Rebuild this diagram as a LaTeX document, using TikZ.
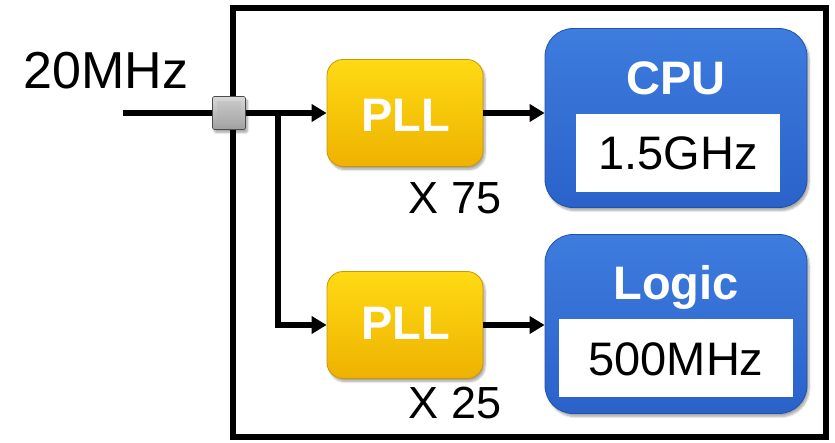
\documentclass[tikz,border=0pt]{standalone}
\usepackage{fontspec}
\setmainfont{Liberation Sans}
\usetikzlibrary{arrows.meta,shadows.blur,calc}
\definecolor{pllTop}{RGB}{255,218,20}
\definecolor{pllBot}{RGB}{238,178,0}
\definecolor{pllEdge}{RGB}{205,150,0}
\definecolor{blkTop}{RGB}{62,124,222}
\definecolor{blkBot}{RGB}{42,98,202}
\definecolor{blkEdge}{RGB}{32,82,170}
\tikzset{
  wire/.style={line width=5.5pt},
  arr/.style={wire,-{Triangle[length=15pt,width=17pt]}},
  softshadow/.style={blur shadow={shadow xshift=2pt,shadow yshift=-3pt,shadow blur steps=6,shadow opacity=35}},
  pllbox/.style={softshadow,rounded corners=16pt,minimum width=156pt,minimum height=107pt,
    top color=pllTop,bottom color=pllBot,draw=pllEdge,line width=0.8pt},
  unitbox/.style={softshadow,rounded corners=28pt,minimum width=262pt,minimum height=179pt,
    top color=blkTop,bottom color=blkBot,draw=blkEdge,line width=0.8pt},
  freqbox/.style={fill=white,inner sep=0pt,text height=34pt,text depth=0pt,
    minimum height=78pt,font=\fontsize{47}{56}\selectfont},
  whitelbl/.style={text=white,font=\bfseries\fontsize{47}{56}\selectfont,anchor=base,inner sep=0pt},
  blacklbl/.style={text=black,font=\fontsize{45}{54}\selectfont,anchor=base,inner sep=0pt},
  junction/.style={softshadow,minimum size=33pt,inner sep=0pt,rounded corners=1.5pt,
    top color=gray!30,bottom color=gray!75,draw=gray!60!black,line width=0.6pt}
}
\begin{document}
\begin{tikzpicture}[x=1pt,y=-1pt]
  \useasboundingbox (0,0) rectangle (835,443);
  % enclosing frame
  \draw[line width=5.5pt] (233,8) rectangle (826,437);

  % blocks
  \node[pllbox] (pll1) at (405,113) {};
  \node[pllbox] (pll2) at (405,325) {};
  \node[unitbox] (cpu) at (676,118) {};
  \node[unitbox] (logic) at (676,324) {};
  \node[freqbox,minimum width=204pt] (cpuf) at (678,153) {1.5GHz};
  \node[freqbox,minimum width=234pt] (logicf) at (676,358) {500MHz};

  \node[whitelbl] (pll1t) at (406,132) {PLL};
  \node[whitelbl] (pll2t) at (406,340) {PLL};
  \node[whitelbl] (cput) at (676,95) {CPU};
  \node[whitelbl] (logict) at (676,300) {Logic};

  % multiplier labels
  \node[blacklbl] (m75) at (455,214) {X 75};
  \node[blacklbl] (m25) at (455,418) {X 25};
  \node[blacklbl,font=\fontsize{52}{62}\selectfont] (fin) at (106,89) {20MHz};

  % clock wiring
  \coordinate (in) at (123,113);
  \coordinate (jc) at (229,113);
  \coordinate (br) at (278,113);
  \draw[wire] (in) -- (jc);
  \draw[arr] (jc) -- (pll1.west);
  \draw[arr] (br) |- (pll2.west);
  \draw[arr] (pll1.east) -- (pll1.east -| cpu.west);
  \draw[arr] (pll2.east) -- (pll2.east -| logic.west);

  % junction block on the frame edge
  \node[junction] (junc) at (jc) {};
  \fill[top color=gray!45,bottom color=gray!68] ($(junc.north west)+(5,5)$) rectangle ($(junc.south east)+(-5,-5)$);
\end{tikzpicture}
\end{document}
